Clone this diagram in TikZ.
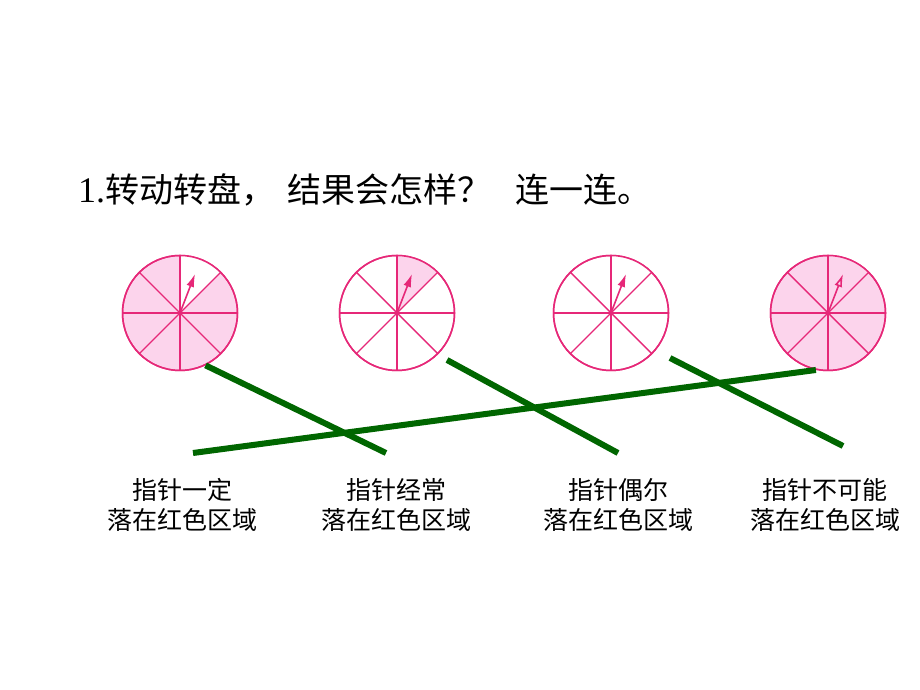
\documentclass[tikz,border=0pt]{standalone}
\usepackage{fontspec}
\setmainfont{Liberation Serif}
\newfontfamily\cjk{Noto Sans CJK SC}
\usetikzlibrary{arrows.meta}
\definecolor{spinred}{RGB}{230,40,120}
\definecolor{spinpink}{RGB}{252,212,236}
\definecolor{linkgreen}{RGB}{0,102,0}

\begin{document}
\begin{tikzpicture}[x=1pt,y=1pt,
  disc/.style={circle,draw=spinred,line width=1.5pt,minimum size=115pt,inner sep=0pt},
  spoke/.style={spinred,line width=1.4pt},
  hand/.style={spinred,line width=1.6pt,-{Latex[length=13pt,width=8pt]}},
  handopen/.style={spinred,line width=1.6pt,-{Latex[open,length=13pt,width=8pt]}},
  link/.style={linkgreen,line width=6pt},
  answer/.style={font=\cjk\fontsize{25}{30}\selectfont,align=center}]
\useasboundingbox (0,0) rectangle (920,690);
% title
\node[anchor=west,inner sep=0pt,font=\fontsize{34}{38}\selectfont] (title) at (78,500)
  {{\fontsize{36}{38}\selectfont 1.}{\cjk 转动转盘，\hspace{12pt}结果会怎样？\hspace{24pt}连一连。}};

% spinners
\foreach \n/\x/\body/\part/\tip in {1/180/spinpink/white/hand,2/397/white/spinpink/hand,
    3/611/white/white/hand,4/828/spinpink/spinpink/handopen}{
  \node[disc,fill=\body] (s\n) at (\x,377) {};
  \fill[\part] (s\n.center) -- ++(45:57.5) arc (45:90:57.5) -- cycle;
  \foreach \a in {0,45,90,135}
    \draw[spoke] (s\n.center) ++(\a:57.5) -- ++(\a:-115);
  \draw[spinred,line width=1.5pt] (s\n.center) circle (57.5);
  \draw[\tip] (s\n.center) -- ++(15,39);
}

% answers
\node[answer] (a1) at (182,185) {指针一定\\落在红色区域};
\node[answer] (a2) at (396,185) {指针经常\\落在红色区域};
\node[answer] (a3) at (618,185) {指针偶尔\\落在红色区域};
\node[answer] (a4) at (825,185) {指针不可能\\落在红色区域};

% links
\coordinate (e1) at (386,237);
\coordinate (b2) at (447,330);
\coordinate (e2) at (618,237);
\coordinate (f3) at (193,237);
\coordinate (b4) at (670,332);
\coordinate (e4) at (843,244);
\draw[link] (s1.-64) -- (e1);
\draw[link] (b2) -- (e2);
\draw[link] (f3) -- (s4.-102);
\draw[link] (b4) -- (e4);
\end{tikzpicture}
\end{document}
